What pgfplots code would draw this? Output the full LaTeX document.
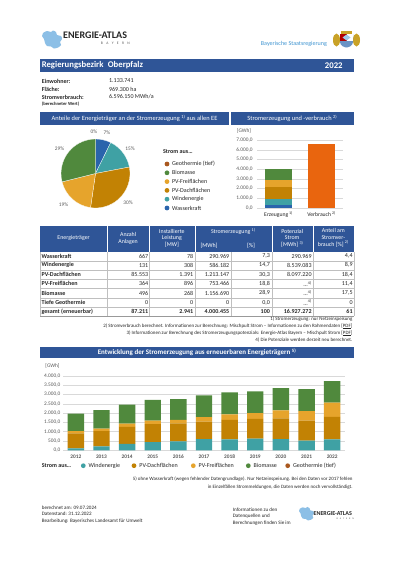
\documentclass[border=0pt]{standalone}
\usepackage{fontspec}
\setmainfont{Carlito}
\usepackage{pgfplots}
\usepackage{pgfplotstable}
\pgfplotsset{compat=1.18}

\definecolor{bannerblue}{HTML}{2F5597}
\definecolor{cwasser}{HTML}{2A64AC}
\definecolor{cwind}{HTML}{3FA1A4}
\definecolor{cdach}{HTML}{C28204}
\definecolor{cfrei}{HTML}{E6A42C}
\definecolor{cbio}{HTML}{50893D}
\definecolor{cgeo}{HTML}{A9581F}
\definecolor{cverb}{HTML}{E9650E}
\definecolor{txtgrey}{HTML}{595959}
\definecolor{gridgrey}{HTML}{D9D9D9}
\definecolor{linegrey}{HTML}{BFBFBF}
\definecolor{logoblue}{HTML}{8CBFE6}
\definecolor{staatblue}{HTML}{3E94D1}
\definecolor{darktxt}{HTML}{262626}
\definecolor{gold}{HTML}{C9A227}

\newcommand\fs[1]{\fontsize{#1}{#1}\selectfont}

% Stromerzeugung und -verbrauch 2022 [GWh]
\pgfplotstableread{
x wasser wind dach frei bio verb
0 291.0 586.2 1213.1 753.5 1156.7 0
1 0 0 0 0 0 6596.2
}\bilanz

% Entwicklung der Stromerzeugung [GWh], 2012..2022
\pgfplotstableread{
x wind dach frei bio geo
0 110 800 125 930 0
1 215 820 125 1000 0
2 340 910 180 1015 0
3 445 965 180 1110 0
4 480 965 180 1125 0
5 600 940 240 1165 0
6 590 1040 300 1180 0
7 625 1055 320 1160 0
8 605 1110 430 1195 0
9 520 1070 515 1180 0
10 586 1213 753 1157 0
}\devtable

\newcommand\bavaria{plot[smooth cycle, tension=0.45] coordinates {(43,33) (47,31) (51,32) (53,30.5) (56,32) (57,35) (61,36) (62,39) (60,42) (61,45) (58,47.5) (54,48.5) (51,46.5) (47,46) (45,43) (44,39) (42,36)}}

\newcommand\trow[9]{%
  \node[t,anchor=west,font=\fs{9}\bfseries] at (41.5,#1) {#2};
  \node[t,anchor=east,font=\fs{9}#9] at (148.3,#1) {#3};
  \node[t,anchor=east,font=\fs{9}#9] at (193.3,#1) {#4};
  \node[t,anchor=east,font=\fs{9}#9] at (229.3,#1) {#5};
  \node[t,anchor=east,font=\fs{9}#9] at (270,#1) {#6};
  \node[t,anchor=east,font=\fs{9}#9] at (311.7,#1) {#7};
  \node[t,anchor=east,font=\fs{9}#9] at (352.7,#1) {#8};
}

\begin{document}
\begin{tikzpicture}
\begin{scope}[x=0.525mm,y=-0.525mm, t/.style={inner sep=0pt, text=darktxt}]
\useasboundingbox (0,0) rectangle (400,566);
\fill[white] (0,0) rectangle (400,566);
\coordinate (pieC) at (95.5,173.5);
\coordinate (barA) at (257,207.7);
\coordinate (devA) at (63,450.3);

% ---------- header logos
\fill[logoblue] \bavaria;
\node[t,anchor=west,font=\fs{15}\bfseries] at (63,35.5) {ENERGIE-ATLAS};
\node[t,anchor=east,font=\fs{5.5},text=txtgrey] at (130,43.5) {\makebox[15.2mm][s]{B\hfill A\hfill Y\hfill E\hfill R\hfill N}};
\node[t,anchor=east,font=\fs{9},text=staatblue] at (327,44) {Bayerische Staatsregierung};
% coat of arms (simplified)
\fill[gold] (336.5,40) ellipse [x radius=3.5, y radius=6.5];
\fill[gold] (356.5,40) ellipse [x radius=3.5, y radius=6.5];
\fill[gold] (341,31) rectangle (352,34);
\fill[cwasser!70] (340,34) -- (353,34) -- (353,42) .. controls (353,46) and (348,47.5) .. (346.5,47.5) .. controls (345,47.5) and (340,46) .. (340,42) -- cycle;
\fill[white] (346.5,34) rectangle (353,40.5);
\fill[red!70!black] (340,34) rectangle (346.5,40.5);
\fill[staatblue!50] (342.5,37.5) -- (346.5,40.5) -- (350.5,37.5) -- (346.5,34.5) -- cycle;

% ---------- banner
\fill[bannerblue] (40,59) rectangle (354,72);
\node[t,anchor=west,font=\fs{13}\bfseries,text=white] at (41.7,65.5) {Regierungsbezirk\hspace{0.5em}Oberpfalz};
\node[t,anchor=east,font=\fs{13}\bfseries,text=white] at (342.7,65.5) {2022};

% ---------- info
\node[t,anchor=west,font=\fs{9}\bfseries] at (41.7,81) {Einwohner:};
\node[t,anchor=west,font=\fs{9}\bfseries] at (41.7,89) {Fläche:};
\node[t,anchor=west,font=\fs{9}\bfseries] at (41.7,97) {Stromverbrauch:};
\node[t,anchor=west,font=\fs{7}\bfseries] at (41.7,104.3) {(berechneter Wert)};
\node[t,anchor=west,font=\fs{9}] at (109,81) {1.133.741};
\node[t,anchor=west,font=\fs{9}] at (109,89) {969.300 ha};
\node[t,anchor=west,font=\fs{9}] at (109,97) {6.596.150 MWh/a};

% ---------- section headers
\fill[bannerblue] (40,111.7) rectangle (229.3,124.5);
\fill[bannerblue] (230.7,111.7) rectangle (354,124.5);
\node[t,font=\fs{9.6},text=white] at (134.6,118.2) {Anteile der Energieträger an der Stromerzeugung \textsuperscript{1)} aus allen EE};
\node[t,font=\fs{9.6},text=white] at (292.3,118.2) {Stromerzeugung und -verbrauch \textsuperscript{2)}};

% pie labels
\node[t,font=\fs{8},text=txtgrey] at (94,132) {0\%};
\node[t,font=\fs{8},text=txtgrey] at (107,133) {7\%};
\node[t,font=\fs{8},text=txtgrey] at (130,149) {15\%};
\node[t,font=\fs{8},text=txtgrey] at (128,203) {30\%};
\node[t,font=\fs{8},text=txtgrey] at (63.5,205) {19\%};
\node[t,font=\fs{8},text=txtgrey] at (59.5,149) {29\%};

% pie legend
\node[t,anchor=west,font=\fs{9}\bfseries] at (163,152) {Strom aus…};
\foreach \c/\n/\yy in {cgeo/Geothermie (tief)/164, cbio/Biomasse/172.8, cfrei/PV-Freiflächen/181.6, cdach/PV-Dachflächen/190.4, cwind/Windenergie/199.2, cwasser/Wasserkraft/208}{
  \fill[\c] (167,\yy) circle (1.25mm);
  \node[t,anchor=west,font=\fs{9}] at (172,\yy) {\n};
}
\node[t,font=\fs{8},text=txtgrey] at (244,131) {[GWh]};

% ---------- table
\fill[bannerblue] (40,225.5) rectangle (354,252);
\foreach \xx in {107.3,149,194.7,271.7,312.7}{\draw[white, line width=0.6pt] (\xx,225.5) -- (\xx,252);}
\begin{scope}[every node/.append style={font=\fs{8.8}, text=white, inner sep=0pt, align=center}]
\node at (73.6,238.3) {Energieträger};
\node at (128.1,238.3) {Anzahl\\[0.5mm]Anlagen};
\node at (171.9,238.3) {Installierte\\[0.5mm]Leistung\\[0.5mm][MW]};
\node at (233.2,231.5) {Stromerzeugung \textsuperscript{1)}};
\node at (209,246) {[MWh]};
\node at (251,246) {[\%]};
\node at (292.2,238.3) {Potenzial\\[0.5mm]Strom\\[0.5mm][MWh] \textsuperscript{3)}};
\node at (333.3,237.6) {Anteil am\\[0.5mm]Stromver-\\[0.5mm]brauch [\%] \textsuperscript{2)}};
\end{scope}
\foreach \yy in {260.6,269.9,279.2,288.5,297.8,307.1}{\draw[linegrey, line width=0.3pt] (40,\yy) -- (354,\yy);}
\draw[linegrey!80!black, line width=0.4pt] (40,316.4) -- (354,316.4);
\foreach \xx in {40,107.3,149,194.7,230.7,271.7,312.7,354}{\draw[linegrey, line width=0.3pt] (\xx,252) -- (\xx,316.4);}
\trow{256}{Wasserkraft}{667}{78}{290.969}{7,3}{290.969}{4,4}{}
\trow{265.3}{Windenergie}{131}{308}{586.182}{14,7}{8.539.083}{8,9}{}
\trow{274.6}{PV-Dachflächen}{85.553}{1.391}{1.213.147}{30,3}{8.097.220}{18,4}{}
\trow{283.9}{PV-Freiflächen}{364}{896}{753.466}{18,8}{...\textsuperscript{4)}}{11,4}{}
\trow{293.2}{Biomasse}{496}{268}{1.156.690}{28,9}{...\textsuperscript{4)}}{17,5}{}
\trow{302.5}{Tiefe Geothermie}{0}{0}{0}{0,0}{...\textsuperscript{4)}}{0}{}
\trow{311.8}{gesamt (erneuerbar)}{87.211}{2.941}{4.000.455}{100}{16.927.272}{61}{\bfseries}

% footnotes
\begin{scope}[every node/.append style={font=\fs{7.4}, anchor=east, inner sep=0pt, text=darktxt}]
\node at (352.5,319.6) {1) Stromerzeugung: nur Netzeinspeisung};
\node at (352.5,326.3) {2) Stromverbrauch berechnet. Informationen zur Berechnung: Mischpult Strom – Informationen zu den Rahmendaten [\underline{PDF}]};
\node at (352.5,333) {3) Informationen zur Berechnung des Stromerzeugungspotenzials: Energie-Atlas Bayern – Mischpult Strom [\underline{PDF}]};
\node at (352.5,340) {4) Die Potenziale werden derzeit neu berechnet.};
\end{scope}

% ---------- Entwicklung
\fill[bannerblue] (40,346.7) rectangle (354,358.2);
\node[t,font=\fs{10.4}\bfseries,text=white] at (197,352.4) {Entwicklung der Stromerzeugung aus erneuerbaren Energieträgern \textsuperscript{5)}};
\node[t,font=\fs{8},text=txtgrey] at (52.5,366) {[GWh]};
% legend
\node[t,anchor=west,font=\fs{9}\bfseries] at (41.7,465.7) {Strom aus…};
\foreach \c/\n/\xx in {cwind/Windenergie/83.3, cdach/PV-Dachflächen/134, cfrei/PV-Freiflächen/193.3, cbio/Biomasse/248.3, cgeo/Geothermie (tief)/287.7}{
  \fill[\c] (\xx,465.7) circle (1.25mm);
  \node[t,anchor=west,font=\fs{9}] at (\xx+5.3,465.7) {\n};
}
\begin{scope}[every node/.append style={font=\fs{7.4}, anchor=east, inner sep=0pt, text=darktxt}]
\node at (352.7,479.3) {5) ohne Wasserkraft (wegen fehlender Datengrundlage). Nur Netzeinspeisung. Bei den Daten vor 2017 fehlen};
\node at (352.7,486.7) {in Einzelfällen Strommeldungen, die Daten werden noch vervollständigt.};
\end{scope}

% ---------- footer
\begin{scope}[every node/.append style={font=\fs{7.6}, anchor=west, inner sep=0pt, text=darktxt}]
\node at (41.7,507.3) {berechnet am: 09.07.2024};
\node at (41.7,514) {Datenstand: 31.12.2022};
\node at (41.7,520.7) {Bearbeitung: Bayerisches Landesamt für Umwelt};
\node at (232.7,509.3) {Informationen zu den};
\node at (232.7,516) {Datenquellen und};
\node at (232.7,522.7) {Berechnungen finden Sie im};
\end{scope}
\begin{scope}[shift={(267.5,484.1)}, scale=0.75]
\fill[logoblue] \bavaria;
\end{scope}
\node[t,anchor=west,font=\fs{9}\bfseries] at (313.5,513.2) {ENERGIE-ATLAS};
\node[t,anchor=east,font=\fs{3.5},text=txtgrey] at (354,518.6) {\makebox[9mm][s]{B\hfill A\hfill Y\hfill E\hfill R\hfill N}};
\end{scope}

% ---------- pie chart
\pgfmathsetmacro\aA{90}
\pgfmathsetmacro\aB{\aA-7.3*3.6}
\pgfmathsetmacro\aC{\aB-14.7*3.6}
\pgfmathsetmacro\aD{\aC-30.3*3.6}
\pgfmathsetmacro\aE{\aD-18.8*3.6}
\pgfmathsetmacro\aF{\aE-28.9*3.6}
\begin{axis}[at={(pieC)}, anchor=center, scale only axis,
  width=36.2mm, height=36.2mm, xmin=-1, xmax=1, ymin=-1, ymax=1, hide axis]
\addplot[draw=none] coordinates {(0,0)};
\fill[cwasser, draw=white, line width=0.4pt] (axis cs:0,0) -- ++(\aA:18.1mm) arc[start angle=\aA, end angle=\aB, radius=18.1mm] -- cycle;
\fill[cwind, draw=white, line width=0.4pt] (axis cs:0,0) -- ++(\aB:18.1mm) arc[start angle=\aB, end angle=\aC, radius=18.1mm] -- cycle;
\fill[cdach, draw=white, line width=0.4pt] (axis cs:0,0) -- ++(\aC:18.1mm) arc[start angle=\aC, end angle=\aD, radius=18.1mm] -- cycle;
\fill[cfrei, draw=white, line width=0.4pt] (axis cs:0,0) -- ++(\aD:18.1mm) arc[start angle=\aD, end angle=\aE, radius=18.1mm] -- cycle;
\fill[cbio, draw=white, line width=0.4pt] (axis cs:0,0) -- ++(\aE:18.1mm) arc[start angle=\aE, end angle=\aF, radius=18.1mm] -- cycle;
\end{axis}

% ---------- Erzeugung / Verbrauch
\begin{axis}[at={(barA)}, anchor=south west, scale only axis,
  width=45.15mm, height=35.54mm,
  ybar stacked, bar width=0.63,
  xmin=-0.5, xmax=1.5, ymin=0, ymax=7000,
  xtick={0,1}, xticklabels={Erzeugung\,\textsuperscript{1)}, Verbrauch\,\textsuperscript{2)}},
  ytick={0,1000,...,7000},
  ymajorgrids, grid style={gridgrey, line width=0.5pt},
  axis line style={draw=none}, major tick length=0pt,
  yticklabel style={font=\fs{8}, text=txtgrey, anchor=east, inner sep=0pt, xshift=-2.2mm},
  xticklabel style={font=\fs{8.5}, text=darktxt, anchor=base, inner sep=0pt, yshift=-4.4mm},
  /pgf/number format/.cd, fixed, fixed zerofill, precision=1, use comma, 1000 sep={.}, assume math mode=true]
\addplot[fill=cwasser, draw=none] table[x=x, y=wasser]{\bilanz};
\addplot[fill=cwind, draw=none] table[x=x, y=wind]{\bilanz};
\addplot[fill=cdach, draw=none] table[x=x, y=dach]{\bilanz};
\addplot[fill=cfrei, draw=none] table[x=x, y=frei]{\bilanz};
\addplot[fill=cbio, draw=none] table[x=x, y=bio]{\bilanz};
\addplot[fill=cverb, draw=none] table[x=x, y=verb]{\bilanz};
\end{axis}

% ---------- Entwicklung chart
\begin{axis}[at={(devA)}, anchor=south west, scale only axis,
  width=148.05mm, height=39.17mm,
  ybar stacked, bar width=0.64,
  xmin=-0.5, xmax=10.5, ymin=0, ymax=4000,
  xtick={0,...,10}, xticklabels={2012,2013,2014,2015,2016,2017,2018,2019,2020,2021,2022},
  ytick={0,500,...,4000},
  ymajorgrids, grid style={gridgrey, line width=0.5pt},
  axis line style={draw=none}, major tick length=0pt,
  yticklabel style={font=\fs{8}, text=txtgrey, anchor=east, inner sep=0pt, xshift=-1.3mm},
  xticklabel style={font=\fs{8}\bfseries, text=txtgrey, anchor=base, inner sep=0pt, yshift=-4.2mm},
  /pgf/number format/.cd, fixed, fixed zerofill, precision=1, use comma, 1000 sep={.}, assume math mode=true]
\addplot[fill=cwind, draw=none] table[x=x, y=wind]{\devtable};
\addplot[fill=cdach, draw=none] table[x=x, y=dach]{\devtable};
\addplot[fill=cfrei, draw=none] table[x=x, y=frei]{\devtable};
\addplot[fill=cbio, draw=none] table[x=x, y=bio]{\devtable};
\addplot[fill=cgeo, draw=none] table[x=x, y=geo]{\devtable};
\end{axis}
\end{tikzpicture}
\end{document}
